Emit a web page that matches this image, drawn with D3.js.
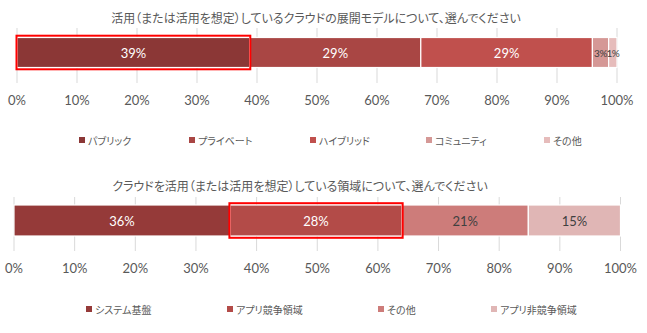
<!DOCTYPE html>
<html>
<head>
<meta charset="utf-8">
<script src="https://cdn.jsdelivr.net/npm/d3@7"></script>
<style>
  body { margin: 0; background: #fff; }
  svg text { font-family: "Noto Sans CJK JP", sans-serif; fill: #595959; font-feature-settings: "palt"; }
  .tick-label { font-family: Lato, "Liberation Sans", sans-serif; }
</style>
</head>
<body>
<script>
// chart 1 data
var title1 = "活用（または活用を想定）しているクラウドの展開モデルについて、選んでください";
var cats1 = ["パブリック", "プライベート", "ハイブリッド", "コミュニティ", "その他"];
var vals1 = [38.8, 28.5, 28.6, 2.7, 1.4];
var colors1 = ["#8B3736", "#A94644", "#C0504D", "#D59896", "#E6BCBB"];

// chart 2 data
var title2 = "クラウドを活用（または活用を想定）している領域について、選んでください";
var cats2 = ["システム基盤", "アプリ競争領域", "その他", "アプリ非競争領域"];
var vals2 = [35.6, 28.4, 20.8, 15.2];
var colors2 = ["#953A39", "#B34B48", "#CD7C7A", "#E0B6B5"];

var ticks = [0, 10, 20, 30, 40, 50, 60, 70, 80, 90, 100];

var svg = d3.select("body").append("svg")
  .attr("width", 647).attr("height", 333);

function drawChart(cfg) {
  var g = svg.append("g");
  var x = d3.scaleLinear().domain([0, 100]).range(cfg.xRange);

  // title
  g.append("text")
    .attr("x", cfg.titleX).attr("y", cfg.titleY)
    .attr("text-anchor", "middle").attr("dominant-baseline", "central")
    .style("font-size", "12px")
    .text(cfg.title);

  // gridlines
  g.selectAll(".grid").data(ticks).enter().append("line")
    .attr("x1", function(d){ return x(d); })
    .attr("x2", function(d){ return x(d); })
    .attr("y1", cfg.gridTop).attr("y2", cfg.gridBottom)
    .attr("stroke", "#D9D9D9").attr("stroke-width", 1);

  // tick labels
  g.selectAll(".tick-label").data(ticks).enter().append("text")
    .attr("class", "tick-label")
    .attr("x", function(d){ return x(d); })
    .attr("y", cfg.tickY)
    .attr("text-anchor", "middle").attr("dominant-baseline", "central")
    .style("font-size", "13px")
    .text(function(d){ return d + "%"; });

  // stacked segments
  var ends = d3.cumsum(cfg.vals);
  var segs = cfg.vals.map(function(v, i){
    return {v: v, start: ends[i] - v, end: ends[i], color: cfg.colors[i], i: i};
  });

  g.selectAll(".seg").data(segs).enter().append("rect")
    .attr("x", function(d){ return x(d.start); })
    .attr("width", function(d){ return x(d.end) - x(d.start); })
    .attr("y", cfg.barY).attr("height", cfg.barH)
    .attr("fill", function(d){ return d.color; })
    .attr("stroke", "#fff").attr("stroke-width", 1.2);

  g.selectAll(".seg-label").data(segs).enter().append("text")
    .attr("class", "tick-label")
    .attr("x", function(d){ return x((d.start + d.end) / 2); })
    .attr("y", cfg.barY + cfg.barH / 2)
    .attr("text-anchor", "middle").attr("dominant-baseline", "central")
    .style("font-size", function(d){ return d.v < 5 ? "10px" : "13px"; })
    .style("letter-spacing", function(d){ return d.v < 5 ? "-0.5px" : null; })
    .style("fill", function(d){ return d.i < cfg.whiteCount ? "#fff" : "#404040"; })
    .text(function(d){ return Math.round(d.v) + "%"; });

  // highlight box
  var h = segs[cfg.highlight];
  g.append("rect")
    .attr("x", x(h.start) - 0.5)
    .attr("width", x(h.end) - x(h.start) + 1)
    .attr("y", cfg.barY - 1.8).attr("height", cfg.barH + 3.6)
    .attr("fill", "none").attr("stroke", "#FF0000").attr("stroke-width", 2);

  // legend
  var leg = g.selectAll(".leg").data(cfg.cats).enter().append("g")
    .attr("transform", function(d, i){ return "translate(" + cfg.legendX[i] + "," + cfg.legendY + ")"; });
  leg.append("rect")
    .attr("x", -3).attr("y", -3).attr("width", 6).attr("height", 6)
    .attr("fill", function(d, i){ return cfg.colors[i]; });
  leg.append("text")
    .attr("x", 6).attr("y", 0).attr("dominant-baseline", "central")
    .style("font-size", "10px")
    .text(function(d){ return d; });
}

drawChart({
  title: title1, cats: cats1, vals: vals1, colors: colors1,
  xRange: [17, 617], titleX: 316, titleY: 17,
  gridTop: 28, gridBottom: 83, tickY: 100,
  barY: 37.5, barH: 30, whiteCount: 3, highlight: 0,
  legendX: [82, 192, 313, 429, 547], legendY: 140
});

drawChart({
  title: title2, cats: cats2, vals: vals2, colors: colors2,
  xRange: [14, 620.5], titleX: 300, titleY: 185,
  gridTop: 197, gridBottom: 251, tickY: 268,
  barY: 205, barH: 31, whiteCount: 2, highlight: 1,
  legendX: [89, 230, 381, 494], legendY: 309
});
</script>
</body>
</html>
